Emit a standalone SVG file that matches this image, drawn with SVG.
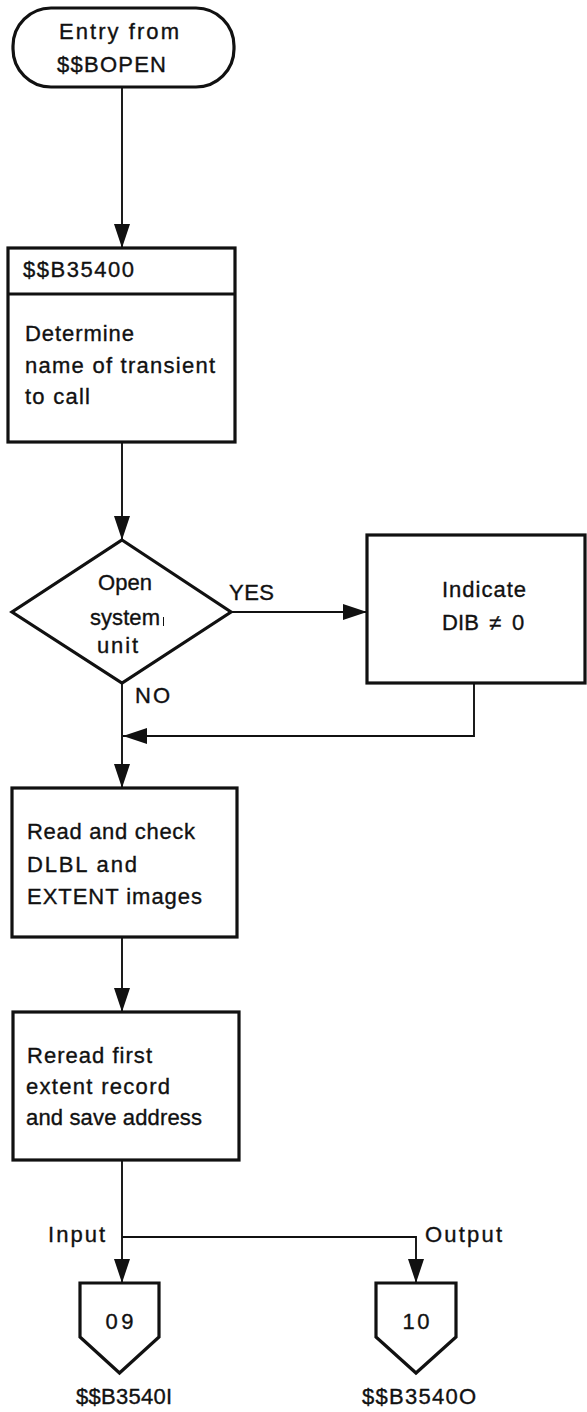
<svg xmlns="http://www.w3.org/2000/svg" width="587" height="1412" viewBox="0 0 587 1412">
  <defs>
    <marker id="arrow" markerUnits="userSpaceOnUse" markerWidth="24" markerHeight="18" refX="24" refY="9" orient="auto">
      <path d="M0,1 L24,9 L0,17 z" fill="#111"/>
    </marker>
    <style>
      .shape { fill: #fff; stroke: #111; stroke-width: 3.2; stroke-linejoin: miter; }
      .conn { fill: none; stroke: #111; stroke-width: 1.9; }
      .txt { font-family: "Liberation Sans", Arial, Helvetica, sans-serif; font-size: 22px; fill: #111; stroke: #111; stroke-width: 0.35; }
      .mid { text-anchor: middle; }
    </style>
  </defs>

  <rect x="0" y="0" width="587" height="1412" fill="#fff"/>

  <!-- connectors -->
  <g id="connectors">
    <path class="conn" d="M122,88 L122,248" marker-end="url(#arrow)"/>
    <path class="conn" d="M122,442 L122,540" marker-end="url(#arrow)"/>
    <path class="conn" d="M231,612 L367,612" marker-end="url(#arrow)"/>
    <path class="conn" d="M474,683 L474,736 L123,736" marker-end="url(#arrow)"/>
    <path class="conn" d="M122,683 L122,788" marker-end="url(#arrow)"/>
    <path class="conn" d="M122,937 L122,1012" marker-end="url(#arrow)"/>
    <path class="conn" d="M122,1160 L122,1283" marker-end="url(#arrow)"/>
    <path class="conn" d="M122,1237 L416,1237 L416,1283" marker-end="url(#arrow)"/>
    <text class="txt" x="229" y="600" textLength="45" lengthAdjust="spacing">YES</text>
    <text class="txt" x="135" y="703" textLength="35" lengthAdjust="spacing">NO</text>
    <text class="txt" x="48" y="1242" textLength="57" lengthAdjust="spacing">Input</text>
    <text class="txt" x="425" y="1242" textLength="77" lengthAdjust="spacing">Output</text>
  </g>

  <!-- entry terminal -->
  <g id="entry">
    <rect class="shape" x="13" y="8" width="221" height="79" rx="38" ry="38"/>
    <text class="txt" x="59" y="39" textLength="120" lengthAdjust="spacing">Entry from</text>
    <text class="txt" x="57" y="72" textLength="109" lengthAdjust="spacing">$$BOPEN</text>
  </g>

  <!-- striped process box -->
  <g id="b35400">
    <rect class="shape" x="8" y="248" width="227" height="194"/>
    <line x1="8" y1="294" x2="235" y2="294" stroke="#111" stroke-width="3.2"/>
    <text class="txt" x="23" y="277" textLength="111" lengthAdjust="spacing">$$B35400</text>
    <text class="txt" x="25" y="341" textLength="109" lengthAdjust="spacing">Determine</text>
    <text class="txt" x="25" y="373" textLength="190" lengthAdjust="spacing">name of transient</text>
    <text class="txt" x="25" y="404" textLength="65" lengthAdjust="spacing">to call</text>
  </g>

  <!-- decision -->
  <g id="decision">
    <polygon class="shape" points="122,540 231,612 122,683 12,612"/>
    <text class="txt" x="98" y="590" textLength="54" lengthAdjust="spacing">Open</text>
    <text class="txt" x="90" y="625" textLength="70" lengthAdjust="spacing">system</text>
    <line x1="163.5" y1="617" x2="163.5" y2="626" stroke="#111" stroke-width="1"/>
    <text class="txt" x="97" y="653" textLength="41" lengthAdjust="spacing">unit</text>
  </g>

  <!-- indicate box -->
  <g id="indicate">
    <rect class="shape" x="367" y="535" width="218" height="148"/>
    <text class="txt" x="442" y="597" textLength="84" lengthAdjust="spacing">Indicate</text>
    <text class="txt" y="630"><tspan x="442" textLength="37" lengthAdjust="spacing">DIB</tspan><tspan x="489">≠</tspan><tspan x="512">0</tspan></text>
  </g>

  <!-- read and check -->
  <g id="readcheck">
    <rect class="shape" x="12" y="788" width="225" height="149"/>
    <text class="txt" x="27" y="839" textLength="168" lengthAdjust="spacing">Read and check</text>
    <text class="txt" x="27" y="872" textLength="110" lengthAdjust="spacing">DLBL and</text>
    <text class="txt" x="27" y="904" textLength="175" lengthAdjust="spacing">EXTENT images</text>
  </g>

  <!-- reread -->
  <g id="reread">
    <rect class="shape" x="13" y="1012" width="226" height="148"/>
    <text class="txt" x="27" y="1063" textLength="125" lengthAdjust="spacing">Reread first</text>
    <text class="txt" x="26" y="1094" textLength="144" lengthAdjust="spacing">extent record</text>
    <text class="txt" x="26" y="1125" textLength="176" lengthAdjust="spacing">and save address</text>
  </g>

  <!-- off-page connectors -->
  <g id="offpage09">
    <polygon class="shape" points="80,1283 159,1283 159,1337 119.5,1373 80,1337"/>
    <text class="txt mid" x="119.5" y="1329" textLength="28" lengthAdjust="spacing">09</text>
    <text class="txt mid" x="124" y="1404" textLength="96" lengthAdjust="spacing">$$B3540I</text>
  </g>
  <g id="offpage10">
    <polygon class="shape" points="376,1283 456,1283 456,1337 416,1373 376,1337"/>
    <text class="txt mid" x="416" y="1329" textLength="27" lengthAdjust="spacing">10</text>
    <text class="txt mid" x="419" y="1404" textLength="114" lengthAdjust="spacing">$$B3540O</text>
  </g>
</svg>
